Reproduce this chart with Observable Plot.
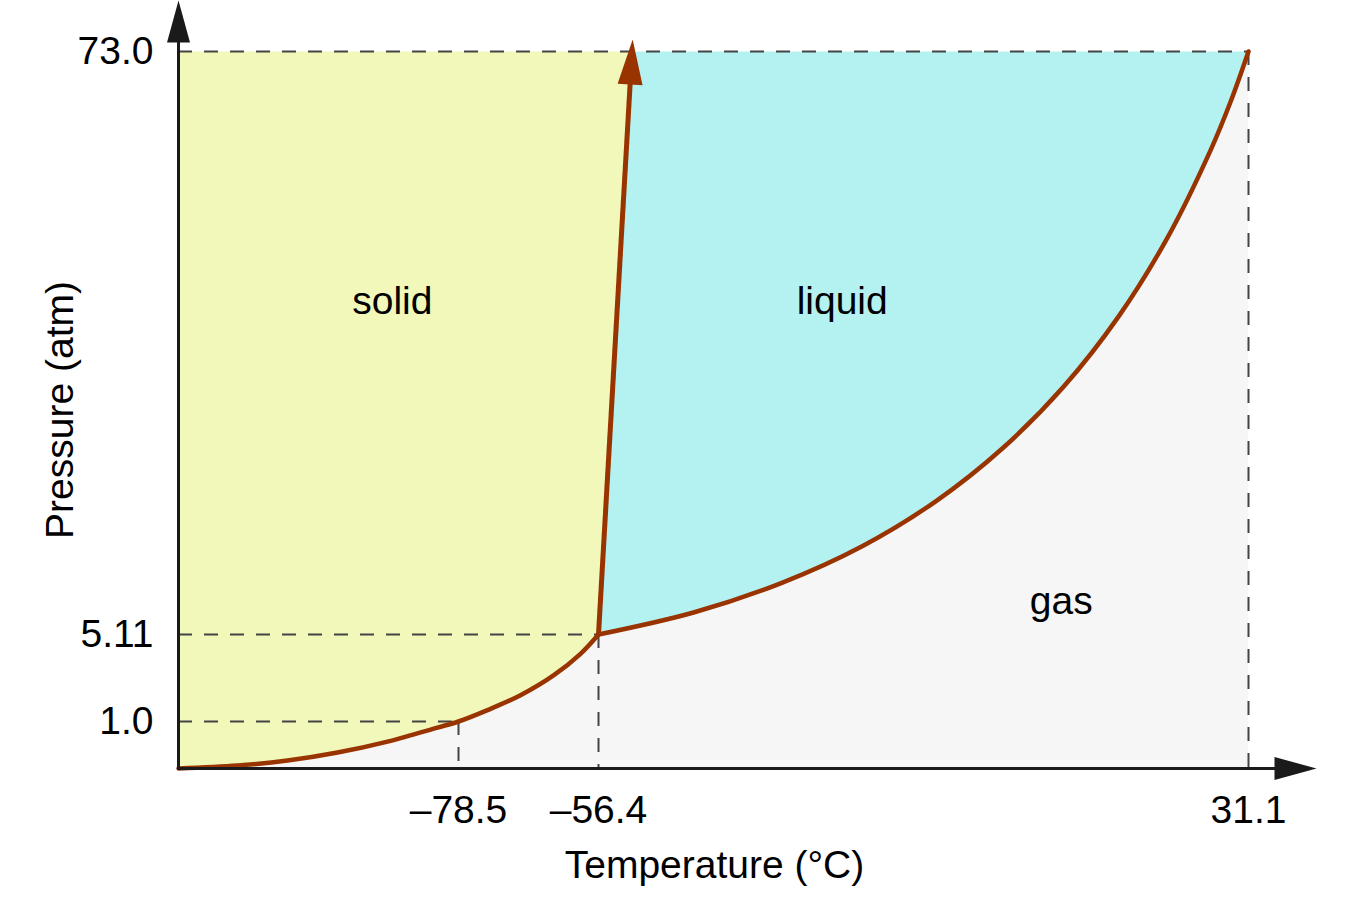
<!DOCTYPE html>
<html>
<head>
<meta charset="utf-8">
<script src="https://cdn.jsdelivr.net/npm/d3@7"></script>
<script src="https://cdn.jsdelivr.net/npm/@observablehq/plot@0.6"></script>
<style>
  html, body { margin: 0; padding: 0; background: #fff; }
  #chart svg { display: block; }
</style>
</head>
<body>
<div id="chart"></div>
<script>
// ---- Data (schematic CO2 phase diagram; axes are not to scale) ----
// Axis break points: temperature (°C) and pressure (atm)
const xStops = [-120, -78.5, -56.4, 31.1, 40];
const yStops = [0, 1.0, 5.11, 73.0, 79];

const xTicks = [-78.5, -56.4, 31.1];
const xTickLabels = ["–78.5", "–56.4", "31.1"];
const yTicks = [73.0, 5.11, 1.0];
const yTickLabels = ["73.0", "5.11", "1.0"];

// Guide (dashed) points: sublimation point at 1 atm, triple point, critical point
const guideT = [-78.5, -56.4, 31.1];
const guideP = [1.0, 5.11, 73.0];

// Sublimation curve (solid / gas)
const sublimationT = [-120, -111.26, -103.84, -96.43, -89.02, -81.61, -78.5, -73.92, -68.71, -63.5, -59.24, -56.4];
const sublimationP = [0, 0.063, 0.169, 0.339, 0.573, 0.871, 1.0, 1.539, 2.24, 3.175, 4.196, 5.11];

// Vaporization curve (liquid / gas)
const vaporT = [-56.4, -43.6, -31.8, -20.9, -11.0, -2.0, 6.2, 13.6, 20.2, 26.05, 28.7, 31.1];
const vaporP = [5.11, 7.67, 11.10, 15.39, 20.62, 26.80, 33.96, 42.13, 51.33, 61.61, 67.17, 73.0];

// Melting line (solid / liquid), ends in an arrow above 73 atm
const meltT = [-56.4, -51.8];
const meltP = [5.11, 74.4];
const meltTopT = -52.0; // where the melting line crosses 73 atm

// Phase labels
const phaseNames = ["solid", "liquid", "gas"];
const phaseT = [-88.3, -23.6, 5.9];
const phaseP = [43.9, 43.9, 9.0];

// ---- Styling ----
const YELLOW = "#f1f8b9";
const CYAN = "#b4f1f1";
const GAS = "#f6f6f6";
const BROWN = "#993300";
const AXIS = "#1a1a1a";
const DASH = "#444444";
const FONT = "'Liberation Sans', Arial, Helvetica, sans-serif";
const FS = 39;

const W = 1356, H = 899;
const xRange = [178, 458, 598, 1248, 1316];
const yRange = [768, 721, 634, 51, 0];

// ---- Derived tables ----
const sub = sublimationT.map((T, i) => ({T, P: sublimationP[i]}));
const vap = vaporT.map((T, i) => ({T, P: vaporP[i]}));
const guides = guideT.map((T, i) => ({T, P: guideP[i]}));
const phases = phaseNames.map((name, i) => ({name, T: phaseT[i], P: phaseP[i]}));
const xMin = xStops[0], xMax = xStops[xStops.length - 1];
const yMax = yStops[yStops.length - 1];
const Tc = guideT[2], Pc = guideP[2], Tt = guideT[1], Pt = guideP[1];

const solidPoly = [
  {T: xMin, P: 0}, {T: xMin, P: Pc}, {T: meltTopT, P: Pc}, {T: Tt, P: Pt}, {T: Tt, P: 0}
];
// right edge leans slightly inward so that it stays hidden under the gas region
const liquidPoly = [
  {T: Tt, P: Pt}, {T: meltTopT, P: Pc}, {T: Tc, P: Pc}, {T: Tc - 1.5, P: 0}, {T: Tt, P: 0}
];
const meltSeg = [{x1: meltT[0], y1: meltP[0], x2: meltT[1], y2: meltP[1]}];
const axisSegs = [
  {x1: xMin, y1: 0, x2: xMax, y2: 0, rot: 90},
  {x1: xMin, y1: 0, x2: xMin, y2: yMax, rot: 0}
];

// rotation of the melting-line arrowhead, from the scales
const xs = Plot.scale({x: {type: "linear", domain: xStops, range: xRange}});
const ys = Plot.scale({y: {type: "linear", domain: yStops, range: yRange}});
const mdx = xs.apply(meltT[1]) - xs.apply(meltT[0]);
const mdy = ys.apply(meltP[1]) - ys.apply(meltP[0]);
const meltAngle = Math.atan2(mdx, -mdy) * 180 / Math.PI;

// filled triangular arrowhead for Plot.vector
const head = (w) => ({
  draw(ctx, l) {
    ctx.moveTo(0, -l);
    ctx.lineTo(w / 2, 0);
    ctx.lineTo(-w / 2, 0);
    ctx.closePath();
  }
});

const xLab = new Map(xTicks.map((d, i) => [d, xTickLabels[i]]));
const yLab = new Map(yTicks.map((d, i) => [d, yTickLabels[i]]));

const chart = Plot.plot({
  width: W,
  height: H,
  marginLeft: 178,
  marginRight: W - 1316,
  marginTop: 0,
  marginBottom: H - 768,
  x: {type: "linear", domain: xStops, range: xRange},
  y: {type: "linear", domain: yStops, range: yRange},
  style: {fontFamily: FONT, fontSize: FS + "px", color: "#000", background: "#fff", overflow: "visible"},
  marks: [
    // phase regions
    Plot.line(solidPoly, {x: "T", y: "P", fill: YELLOW, stroke: "none"}),
    Plot.line(liquidPoly, {x: "T", y: "P", fill: CYAN, stroke: "none"}),
    Plot.areaY(sub, {x: "T", y: "P", fill: GAS, curve: "catmull-rom"}),
    Plot.areaY(vap, {x: "T", y: "P", fill: GAS, curve: "catmull-rom"}),
    // dashed guides
    Plot.ruleY(guides, {y: "P", x1: xMin, x2: "T", stroke: DASH, strokeWidth: 2, strokeDasharray: "14,12"}),
    Plot.ruleX(guides, {x: "T", y1: "P", y2: 0, stroke: DASH, strokeWidth: 2, strokeDasharray: "14,12"}),
    // phase boundaries
    Plot.line(sub, {x: "T", y: "P", stroke: BROWN, strokeWidth: 4.5, curve: "catmull-rom"}),
    Plot.line(vap, {x: "T", y: "P", stroke: BROWN, strokeWidth: 4.5, curve: "catmull-rom"}),
    Plot.arrow(meltSeg, {x1: "x1", y1: "y1", x2: "x2", y2: "y2", stroke: BROWN, strokeWidth: 5, headLength: 0, insetEnd: 22, strokeLinecap: "butt"}),
    Plot.vector(meltSeg, {x: "x2", y: "y2", length: 45, rotate: meltAngle, anchor: "end", shape: head(25), fill: BROWN, stroke: "none"}),
    // axes with arrowheads
    Plot.arrow(axisSegs, {x1: "x1", y1: "y1", x2: "x2", y2: "y2", stroke: AXIS, strokeWidth: 3, headLength: 0, insetEnd: 20, strokeLinecap: "square"}),
    Plot.vector(axisSegs, {x: "x2", y: "y2", length: 42, rotate: "rot", anchor: "end", shape: head(23), fill: AXIS, stroke: "none"}),
    // tick labels
    Plot.axisX({ticks: xTicks, tickSize: 0, tickPadding: 27, tickFormat: (d) => xLab.get(d), label: null, fontSize: FS}),
    Plot.axisY({ticks: yTicks, tickSize: 0, tickPadding: 25, tickFormat: (d) => yLab.get(d), label: null, fontSize: FS}),
    // axis titles
    Plot.text(["Temperature (°C)"], {frameAnchor: "bottom", textAnchor: "middle", dx: -33, dy: 97.5, lineAnchor: "middle", fontSize: FS}),
    Plot.text(["Pressure (atm)"], {frameAnchor: "left", textAnchor: "middle", rotate: -90, dx: -118, dy: 25.5, lineAnchor: "middle", fontSize: FS}),
    // phase labels
    Plot.text(phases, {x: "T", y: "P", text: "name", lineAnchor: "middle", fontSize: FS})
  ]
});

document.getElementById("chart").appendChild(chart);
</script>
</body>
</html>
